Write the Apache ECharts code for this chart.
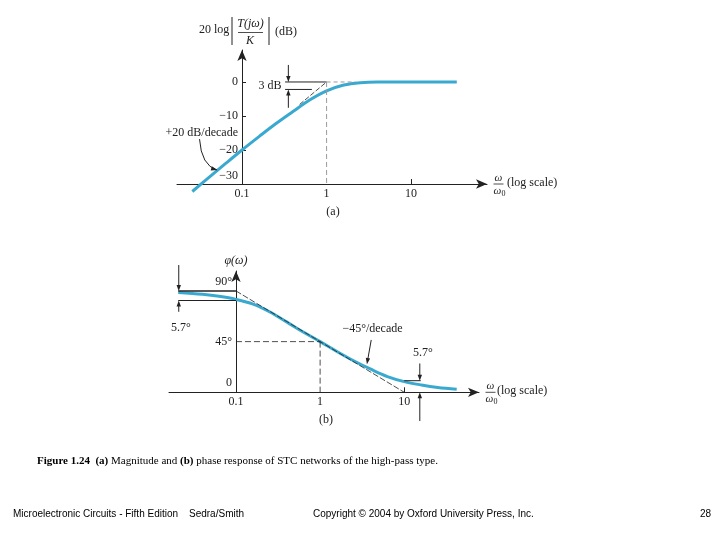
<!DOCTYPE html>
<html><head><meta charset="utf-8">
<script src="https://cdn.jsdelivr.net/npm/echarts@6/dist/echarts.min.js"></script>
<style>html,body{margin:0;padding:0;background:#fff}#c{width:720px;height:540px}</style>
</head><body><div id="c"></div>
<script>
// ---- data ----
const magOmega = [0.0258, 0.04, 0.063, 0.1, 0.16, 0.25, 0.4, 0.63, 1, 1.6, 2.5, 4, 6.3, 10, 16, 25, 34.7];
const magDb    = [-32.2, -28.2, -24.1, -20, -16, -12.3, -8.7, -5.3, -2.6, -0.9, -0.2, 0, 0, 0, 0, 0, 0];
const phaseOmega = [0.0206, 0.04, 0.063, 0.1, 0.16, 0.25, 0.4, 0.63, 1, 1.6, 2.5, 4, 6.3, 10, 16, 25, 42];
const phaseDeg   = [88.7, 87, 85.2, 82.5, 78.3, 71.5, 62.5, 53.5, 45, 36, 28, 20.5, 14, 9.5, 6.5, 4.3, 2.7];
const xTickLabels = [0.1, 1, 10];
const magYTicks = [0, -10, -20, -30];
const phaseYTicks = [0, 45, 90];
// annotation geometry (data coordinates)
const magAsymptote = [[0.48, -6.6], [1, 0]];
const magZeroLine = [[0.323, 0], [1, 0]];
const magZeroDash = [[1, 0], [2.2, 0]];
const mag3dbLine = [[0.323, -2.2], [0.67, -2.2]];
const mag3dbArrowDown = [[0.353, 5], [0.353, 0]];
const mag3dbArrowUp = [[0.353, -7.6], [0.353, -2.2]];
const magCornerDash = [[1, 0], [1, -30]];
const slopeArrow = [[0.0314, -16.8], [0.0506, -25.9]];
const phAsymptote = [[0.1, 90], [10, 0]];
const ph90Line = [[0.0206, 90], [0.1, 90]];
const ph84Line = [[0.0206, 81.5], [0.1, 81.5]];
const phLeftArrowDown = [[0.0209, 113], [0.0209, 90]];
const phLeftArrowUp = [[0.0209, 71.5], [0.0209, 81.5]];
const ph45H = [[0.1, 45], [1, 45]];
const ph45V = [[1, 45], [1, 0]];
const phRightLine = [[10, 10.3], [15.7, 10.3]];
const phRightArrowDown = [[15.3, 25.6], [15.3, 10.3]];
const phRightArrowUp = [[15.3, -25.5], [15.3, 0]];
const phSlopeArrow = [[4.05, 46.5], [3.6, 25]];

const SERIF = '"Liberation Serif","Times New Roman",serif';
const SANS = '"Liberation Sans",Arial,sans-serif';
const INK = '#222';
const CURVE = '#3aa9cf';

function fmtX(v) {
  const m = xTickLabels.find(t => Math.abs(Math.log10(v) - Math.log10(t)) < 1e-6);
  return m === undefined ? '' : String(m);
}
const minus = v => String(v).replace('-', '\u2212');

const chart = echarts.init(document.getElementById('c'), null, {renderer: 'canvas'});

function xAxisCfg(gridIndex, min, max) {
  return {
    type: 'log', logBase: 10, gridIndex, min, max,
    axisLine: {show: true, onZero: false, symbol: ['none', 'arrow'], symbolSize: [7, 11], lineStyle: {color: INK, width: 1}},
    axisTick: {show: true, inside: true, length: 5, customValues: [10], lineStyle: {color: INK}},
    axisLabel: {show: true, customValues: xTickLabels, formatter: fmtX, margin: 4,
      fontFamily: SERIF, fontSize: 12, color: INK},
    splitLine: {show: false}, minorTick: {show: false}
  };
}

const option = {
  animation: false,
  backgroundColor: '#fff',
  grid: [
    {left: 177, top: 50, width: 310, height: 134, outerBoundsMode: 'none', containLabel: false},
    {left: 169, top: 271, width: 310, height: 121.3, outerBoundsMode: 'none', containLabel: false}
  ],
  xAxis: [xAxisCfg(0, 0.017, 79), xAxisCfg(1, 0.016, 77.3)],
  yAxis: [
    {type: 'value', gridIndex: 0, min: -30, max: 9.4, offset: -65,
      axisLine: {show: true, onZero: false, symbol: ['none', 'arrow'], symbolSize: [7, 11], lineStyle: {color: INK, width: 1}},
      axisTick: {show: true, inside: true, length: 4, customValues: magYTicks, lineStyle: {color: INK}},
      axisLabel: {show: true, customValues: magYTicks, margin: 4, fontFamily: SERIF, fontSize: 12, color: INK,
        formatter: v => v === -30 ? '{lo|' + minus(v) + '}' : minus(v),
        rich: {lo: {fontFamily: SERIF, fontSize: 12, color: INK, padding: [0, 0, 16, 0]}}},
      splitLine: {show: false}},
    {type: 'value', gridIndex: 1, min: 0, max: 107.7, offset: -67,
      axisLine: {show: true, onZero: false, symbol: ['none', 'arrow'], symbolSize: [7, 11], lineStyle: {color: INK, width: 1}},
      axisTick: {show: false},
      axisLabel: {show: true, customValues: phaseYTicks, margin: 4, fontFamily: SERIF, fontSize: 12, color: INK,
        formatter: v => v === 45 ? '45°' : (v === 0 ? '{up|0}' : '{up|' + v + '°}'),
        rich: {up: {fontFamily: SERIF, fontSize: 12, color: INK, padding: [0, 0, 18, 0]}}},
      splitLine: {show: false}}
  ],
  series: [
    {type: 'line', xAxisIndex: 0, yAxisIndex: 0, smooth: 0.35, symbol: 'none', clip: false, z: 3,
      lineStyle: {color: CURVE, width: 3}, data: magOmega.map((w, i) => [w, magDb[i]])},
    {type: 'line', xAxisIndex: 1, yAxisIndex: 1, smooth: 0.35, symbol: 'none', clip: false, z: 3,
      lineStyle: {color: CURVE, width: 3}, data: phaseOmega.map((w, i) => [w, phaseDeg[i]])}
  ]
};
chart.setOption(option);

// ---- annotations placed through the chart's own scales ----
const px = (g, p) => chart.convertToPixel({gridIndex: g}, p);
function seg(g, pair, style) {
  const a = px(g, pair[0]), b = px(g, pair[1]);
  return {type: 'line', z: 5, silent: true, shape: {x1: a[0], y1: a[1], x2: b[0], y2: b[1]},
    style: Object.assign({stroke: INK, lineWidth: 1}, style || {})};
}
function head(tip, ux, uy, hl, hw) {
  const bx = tip[0] - ux * hl, by = tip[1] - uy * hl;
  return {type: 'polygon', z: 6, silent: true,
    shape: {points: [[tip[0], tip[1]], [bx - uy * hw, by + ux * hw], [bx + uy * hw, by - ux * hw]]},
    style: {fill: INK}};
}
function arrow(g, pair) {
  const a = px(g, pair[0]), b = px(g, pair[1]);
  const dx = b[0] - a[0], dy = b[1] - a[1], L = Math.hypot(dx, dy);
  const ux = dx / L, uy = dy / L;
  return [{type: 'line', z: 5, silent: true,
      shape: {x1: a[0], y1: a[1], x2: b[0] - ux * 4, y2: b[1] - uy * 4}, style: {stroke: INK, lineWidth: 1}},
    head(b, ux, uy, 6, 2.2)];
}
function curvedArrow(g, pair, fx, fy) {
  const a = px(g, pair[0]), b = px(g, pair[1]);
  const cx = a[0] + (b[0] - a[0]) * fx, cy = a[1] + (b[1] - a[1]) * fy;
  const dx = b[0] - cx, dy = b[1] - cy, L = Math.hypot(dx, dy);
  return [{type: 'bezierCurve', z: 5, silent: true,
      shape: {x1: a[0], y1: a[1], x2: b[0], y2: b[1], cpx1: cx, cpy1: cy},
      style: {stroke: INK, lineWidth: 1, fill: null}},
    head(b, dx / L, dy / L, 6, 2.2)];
}
function txt(x, y, text, o) {
  o = o || {};
  return {type: 'text', z: 7, silent: true, x, y,
    style: {text, fill: o.color || INK, font: (o.font || ((o.italic ? 'italic ' : '') + (o.size || 12) + 'px ' + SERIF)),
      align: o.align || 'center', verticalAlign: o.va || 'middle', rich: o.rich}};
}
function pline(x1, y1, x2, y2, w) {
  return {type: 'line', z: 5, silent: true, shape: {x1, y1, x2, y2}, style: {stroke: INK, lineWidth: w || 1}};
}
function xName(cx, cy, leftX) {
  return [
    txt(cx, cy - 6, 'ω', {italic: true, size: 11}),
    pline(cx - 5, cy, cx + 5, cy, 0.8),
    txt(cx + 1, cy + 7, '{i|ω}{s|0}', {rich: {i: {font: 'italic 11px ' + SERIF, fill: INK}, s: {font: '8px ' + SERIF, fill: INK, padding: [6, 0, 0, 0]}}}),
    txt(leftX, cy - 1, '(log scale)', {align: 'left'})
  ];
}

const els = [];
// (a) magnitude
els.push(seg(0, magAsymptote, {lineWidth: 0.8, lineDash: [5, 2]}));
els.push(seg(0, magZeroLine, {lineWidth: 1}));
els.push(seg(0, magZeroDash, {stroke: '#999', lineWidth: 1, lineDash: [4, 3]}));
els.push(seg(0, mag3dbLine, {lineWidth: 1}));
els.push(seg(0, magCornerDash, {stroke: '#999', lineWidth: 1, lineDash: [5, 3]}));
els.push(...arrow(0, mag3dbArrowDown), ...arrow(0, mag3dbArrowUp));
els.push(...curvedArrow(0, slopeArrow, 0.1, 0.85));
els.push(txt(270, 86, '3 dB'));
els.push(txt(238, 132.5, '+20 dB/decade', {align: 'right'}));
els.push(txt(333, 212, '(a)'));
els.push(txt(199, 30, '20 log', {align: 'left'}));
els.push(pline(232, 17, 232, 45, 1), pline(269, 17, 269, 45, 1));
els.push(txt(250.5, 24, 'T(jω)', {italic: true}));
els.push(pline(238, 32.5, 263, 32.5, 0.8));
els.push(txt(250, 40.5, 'K', {italic: true}));
els.push(txt(275, 32, '(dB)', {align: 'left'}));
els.push(...xName(498.5, 184, 507));
// (b) phase
els.push(seg(1, phAsymptote, {lineWidth: 0.8, lineDash: [6, 2]}));
els.push(seg(1, ph90Line, {lineWidth: 1.4}));
els.push(seg(1, ph84Line, {lineWidth: 1}));
els.push(seg(1, ph45H, {lineWidth: 0.8, lineDash: [6, 3]}));
els.push(seg(1, ph45V, {lineWidth: 0.8, lineDash: [6, 3]}));
els.push(seg(1, phRightLine, {lineWidth: 1}));
els.push(...arrow(1, phLeftArrowDown), ...arrow(1, phLeftArrowUp));
els.push(...arrow(1, phRightArrowDown), ...arrow(1, phRightArrowUp));
els.push(...arrow(1, phSlopeArrow));
els.push(txt(236, 261, 'φ(ω)', {italic: true}));
els.push(txt(181, 328, '5.7°'));
els.push(txt(423, 353, '5.7°'));
els.push(txt(372.5, 328.5, '\u221245°/decade'));
els.push(txt(326, 420, '(b)'));
els.push(...xName(490.5, 392.3, 497));
// caption and footer
els.push(txt(37, 461, '{b|Figure 1.24}  {b|(a)} Magnitude and {b|(b)} phase response of STC networks of the high-pass type.',
  {align: 'left', rich: {b: {font: 'bold 11px ' + SERIF, fill: '#000'}}, font: '11px ' + SERIF, color: '#000'}));
els.push(txt(13, 514, 'Microelectronic Circuits - Fifth Edition', {align: 'left', font: '10px ' + SANS, color: '#000'}));
els.push(txt(189, 514, 'Sedra/Smith', {align: 'left', font: '10px ' + SANS, color: '#000'}));
els.push(txt(313, 514, 'Copyright © 2004 by Oxford University Press, Inc.', {align: 'left', font: '10px ' + SANS, color: '#000'}));
els.push(txt(700, 514, '28', {align: 'left', font: '10px ' + SANS, color: '#000'}));

chart.setOption({graphic: {elements: els}});
</script></body></html>
